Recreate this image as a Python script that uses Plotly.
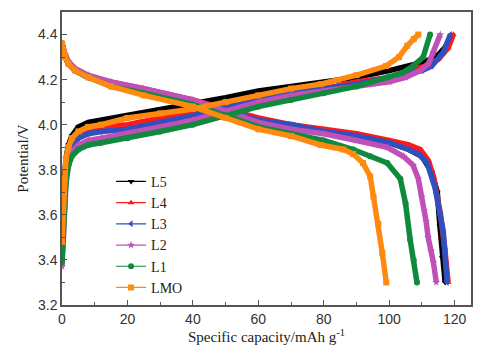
import plotly.graph_objects as go

series_names = ["L5", "L4", "L3", "L2", "L1", "LMO"]
series_colors = ["#000000", "#ff1a1a", "#3050c0", "#c050b8", "#108a3c", "#ff8a10"]
series_symbols = ["triangle-down", "triangle-up", "triangle-left", "star", "circle", "square"]

# ---- charge curves (capacity, potential) ----
L5_charge_cap = [0, 0.3, 0.7, 1.2, 2, 3, 5, 8, 12, 20, 30, 40, 50, 60, 70, 80, 90, 100, 106, 111, 115, 117.5, 119.2]
L5_charge_v = [3.40, 3.58, 3.74, 3.85, 3.91, 3.95, 3.99, 4.01, 4.02, 4.04, 4.07, 4.09, 4.12, 4.15, 4.17, 4.19, 4.21, 4.24, 4.26, 4.28, 4.31, 4.35, 4.40]

L4_charge_cap = [0, 0.3, 0.7, 1.2, 2, 3, 5, 8, 12, 20, 30, 40, 50, 60, 70, 80, 90, 100, 106, 111, 115, 118, 119.6]
L4_charge_v = [3.44, 3.58, 3.72, 3.82, 3.88, 3.92, 3.96, 3.98, 3.99, 4.00, 4.03, 4.06, 4.09, 4.12, 4.14, 4.16, 4.19, 4.21, 4.24, 4.26, 4.29, 4.34, 4.40]

L3_charge_cap = [0, 0.3, 0.7, 1.2, 2, 3, 5, 8, 12, 20, 30, 40, 50, 60, 70, 80, 90, 100, 106, 110, 113, 116.5, 118.7]
L3_charge_v = [3.41, 3.56, 3.70, 3.80, 3.87, 3.91, 3.94, 3.96, 3.97, 3.98, 4.01, 4.04, 4.08, 4.11, 4.14, 4.16, 4.18, 4.21, 4.23, 4.24, 4.26, 4.32, 4.40]

L2_charge_cap = [0, 0.3, 0.7, 1.2, 2, 3, 5, 8, 12, 20, 30, 40, 50, 60, 70, 80, 90, 100, 105, 109.5, 112, 113.5, 115.6]
L2_charge_v = [3.37, 3.50, 3.64, 3.75, 3.83, 3.88, 3.91, 3.93, 3.94, 3.96, 3.99, 4.02, 4.06, 4.10, 4.13, 4.15, 4.17, 4.19, 4.21, 4.24, 4.27, 4.32, 4.40]

L1_charge_cap = [0, 0.3, 0.7, 1.2, 2, 3, 5, 8, 12, 20, 30, 40, 50, 60, 70, 80, 90, 99.4, 104, 107.3, 110.4, 112.5]
L1_charge_v = [3.39, 3.50, 3.63, 3.74, 3.82, 3.86, 3.89, 3.91, 3.92, 3.94, 3.97, 4.00, 4.04, 4.08, 4.11, 4.14, 4.17, 4.21, 4.23, 4.26, 4.30, 4.40]

LMO_charge_cap = [0, 0.3, 0.7, 1.2, 2, 3, 5, 8, 12, 20, 30, 40, 50, 60, 70, 79, 90, 99, 103, 105.5, 107.5, 108.9]
LMO_charge_v = [3.48, 3.62, 3.76, 3.85, 3.90, 3.94, 3.97, 3.99, 4.00, 4.03, 4.05, 4.07, 4.10, 4.13, 4.16, 4.18, 4.22, 4.26, 4.30, 4.35, 4.38, 4.40]

# ---- discharge curves (capacity, potential) ----
L5_dis_cap = [0, 0.5, 1, 2, 4, 8, 15, 25, 40, 50, 60, 70, 80, 90, 100, 106, 110, 113, 114.7, 115.5, 116.2, 117.1]
L5_dis_v = [4.36, 4.32, 4.30, 4.27, 4.24, 4.21, 4.18, 4.15, 4.10, 4.06, 4.02, 4.00, 3.97, 3.95, 3.92, 3.89, 3.86, 3.79, 3.70, 3.55, 3.41, 3.30]

L4_dis_cap = [0, 0.5, 1, 2, 4, 8, 15, 25, 40, 50, 60, 70, 80, 90, 100, 106, 109.5, 112, 113.5, 115.6, 117, 118]
L4_dis_v = [4.36, 4.32, 4.30, 4.27, 4.24, 4.21, 4.19, 4.16, 4.11, 4.07, 4.03, 4.00, 3.98, 3.96, 3.93, 3.91, 3.89, 3.84, 3.77, 3.61, 3.45, 3.30]

L3_dis_cap = [0, 0.5, 1, 2, 4, 8, 15, 25, 40, 50, 60, 70, 80, 90, 100, 106, 109, 111.6, 114, 116.5, 117.7]
L3_dis_v = [4.36, 4.32, 4.30, 4.27, 4.24, 4.21, 4.18, 4.15, 4.10, 4.06, 4.02, 4.00, 3.97, 3.95, 3.92, 3.89, 3.87, 3.83, 3.72, 3.53, 3.30]

L2_dis_cap = [0, 0.5, 1, 2, 4, 8, 15, 25, 40, 50, 60, 70, 80, 90, 99.4, 104.3, 107.3, 108.9, 110, 110.7, 111.3, 111.9, 112.8, 113.5, 114.4]
L2_dis_v = [4.36, 4.33, 4.31, 4.28, 4.25, 4.22, 4.19, 4.16, 4.11, 4.06, 4.01, 3.98, 3.96, 3.93, 3.90, 3.86, 3.82, 3.76, 3.68, 3.62, 3.57, 3.50, 3.44, 3.39, 3.30]

L1_dis_cap = [0, 0.5, 1, 2, 4, 8, 15, 25, 40, 50, 60, 70, 80, 89, 94.2, 99.4, 103.4, 105, 106.4, 107.5, 108.5]
L1_dis_v = [4.36, 4.32, 4.30, 4.27, 4.24, 4.21, 4.17, 4.14, 4.09, 4.04, 3.99, 3.96, 3.93, 3.89, 3.86, 3.83, 3.76, 3.65, 3.49, 3.40, 3.30]

LMO_dis_cap = [0, 0.5, 1, 2, 4, 8, 15, 25, 40, 50, 60, 70, 79, 86, 89, 92, 94.2, 95.2, 96.7, 97.9, 99.1]
LMO_dis_v = [4.36, 4.32, 4.30, 4.27, 4.24, 4.21, 4.17, 4.13, 4.08, 4.03, 3.98, 3.95, 3.91, 3.89, 3.87, 3.83, 3.77, 3.68, 3.56, 3.43, 3.30]

charge = {
    "L5": (L5_charge_cap, L5_charge_v), "L4": (L4_charge_cap, L4_charge_v),
    "L3": (L3_charge_cap, L3_charge_v), "L2": (L2_charge_cap, L2_charge_v),
    "L1": (L1_charge_cap, L1_charge_v), "LMO": (LMO_charge_cap, LMO_charge_v),
}
discharge = {
    "L5": (L5_dis_cap, L5_dis_v), "L4": (L4_dis_cap, L4_dis_v),
    "L3": (L3_dis_cap, L3_dis_v), "L2": (L2_dis_cap, L2_dis_v),
    "L1": (L1_dis_cap, L1_dis_v), "LMO": (LMO_dis_cap, LMO_dis_v),
}

x_ticks = [0, 20, 40, 60, 80, 100, 120]
y_ticks = [3.2, 3.4, 3.6, 3.8, 4.0, 4.2, 4.4]

fig = go.Figure()
for name, color, sym in zip(series_names, series_colors, series_symbols):
    cx, cv = charge[name]
    dx, dv = discharge[name]
    xs = list(cx) + [None] + list(dx)
    ys = list(cv) + [None] + list(dv)
    # thick band (dense-marker look)
    fig.add_trace(go.Scatter(x=xs, y=ys, mode="lines", showlegend=False,
                             line=dict(color=color, width=5.5), hoverinfo="skip"))
    fig.add_trace(go.Scatter(x=xs, y=ys, mode="lines+markers", name=name,
                             line=dict(color=color, width=1.2),
                             marker=dict(symbol=sym, size=6, color=color)))

axis_common = dict(
    showline=True, linecolor="#555555", linewidth=1.5, mirror=True,
    showgrid=False, zeroline=False, ticks="inside", ticklen=5, automargin=False,
    tickcolor="#555555", tickfont=dict(family="Liberation Sans", size=14, color="#333333"),
)
fig.update_xaxes(range=[0, 125], tickvals=x_ticks,
                 minor=dict(dtick=10, ticks="inside", ticklen=3, tickcolor="#555555"),
                 title=dict(text="Specific capacity/mAh g<sup>-1</sup>",
                            font=dict(family="Liberation Serif", size=15, color="#222222"),
                            standoff=4),
                 **axis_common)
fig.update_yaxes(range=[3.2, 4.5], tickvals=y_ticks, tickformat=".1f",
                 minor=dict(dtick=0.1, ticks="inside", ticklen=3, tickcolor="#555555"),
                 title=dict(text="Potential/V",
                            font=dict(family="Liberation Serif", size=15, color="#222222"),
                            standoff=6),
                 **axis_common)
# page body adds ~8px offset, so the figure is sized/margined to compensate
fig.update_layout(
    width=492, height=347,
    margin=dict(l=54, r=29, t=4, b=50, autoexpand=False),
    plot_bgcolor="white", paper_bgcolor="white",
    legend=dict(x=0.12, y=0.475, xanchor="left", yanchor="top",
                bgcolor="rgba(0,0,0,0)", font=dict(family="Liberation Serif", size=14, color="#222222"),
                itemwidth=30, tracegroupgap=0),
)
fig.write_html("out.html")
